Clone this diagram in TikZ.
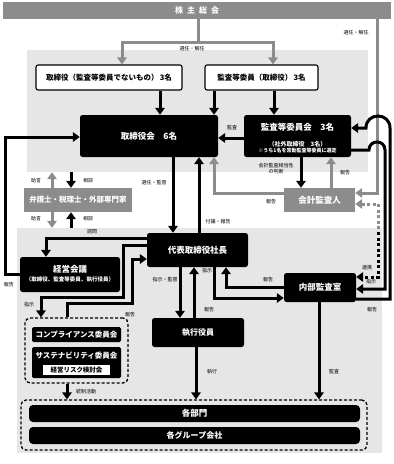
\documentclass[tikz,border=0pt]{standalone}
\usepackage{fontspec}
\setmainfont{Noto Sans CJK JP}
\usetikzlibrary{arrows.meta}
\definecolor{midgray}{HTML}{8C8C8C}
\definecolor{panelgray}{HTML}{E6E6E6}
\newcommand{\fsz}[2]{\fontsize{#1}{#2}\selectfont}
\tikzset{
  panel/.style={rectangle,fill=panelgray,inner sep=0pt},
  box/.style={rectangle,fill=black,text=white,rounded corners=2.5pt,inner sep=0pt,align=center},
  wbox/.style={rectangle,draw=black,line width=1.1pt,fill=white,rounded corners=2pt,inner sep=0pt,align=center},
  gbox/.style={rectangle,fill=midgray,text=white,inner sep=0pt,align=center},
  dashbox/.style={rectangle,draw=black,line width=1.3pt,dash pattern=on 3pt off 2pt,rounded corners=5pt,inner sep=0pt},
  txt/.style={inner sep=0pt,align=center},
  link/.style={-{Triangle[length=7pt,width=9.5pt]},line width=3pt},
  glink/.style={link,draw=midgray},
  dotlink/.style={line width=3pt,dash pattern=on 3pt off 2.5pt},
  lbl/.style={font=\fsz{5}{6},inner sep=0pt,align=center}
}

\begin{document}
\begin{tikzpicture}[x=1pt,y=-1pt]
\useasboundingbox (0,0) rectangle (394,464);
% background panels
\node[panel,minimum width=341pt,minimum height=122pt] (upper) at (197.5,111) {};
\node[panel,minimum width=365pt,minimum height=225pt] (lower) at (199.5,340.5) {};

% nodes
\node[gbox,minimum width=388pt,minimum height=17pt,font=\bfseries\fsz{8}{9}] (meeting) at (197,10.5) {株\hspace{4pt}主\hspace{4pt}総\hspace{4pt}会};
\node[wbox,minimum width=146pt,minimum height=25pt,font=\bfseries\fsz{7.5}{9}] (dir) at (109,77.5) {取締役（監査等委員でないもの）\,3名};
\node[wbox,minimum width=113pt,minimum height=25pt,font=\bfseries\fsz{7.5}{9}] (acm) at (261.5,77.5) {監査等委員（取締役）\,3名};
\node[box,minimum width=138pt,minimum height=42pt,font=\bfseries\fsz{8.5}{10}] (board) at (149,136) {取締役会　6名};
\node[box,minimum width=107pt,minimum height=42pt] (ac) at (297.5,136) {};
\node[txt,text=white,font=\bfseries\fsz{8.5}{10}] (actitle) at (297.5,127) {監査等委員会　3名};
\node[txt,text=white,font=\bfseries\fsz{6}{7}] (acsub) at (297.5,144) {（社外取締役　3名）};
\node[txt,text=white,font=\bfseries\fsz{5}{6}] (acnote) at (297.5,151) {※うち1名を常勤監査等委員に選定};
\node[gbox,minimum width=108pt,minimum height=24pt,font=\bfseries\fsz{7.5}{9}] (expert) at (78,200) {弁護士・税理士・外部専門家};
\node[gbox,minimum width=71pt,minimum height=24pt,font=\bfseries\fsz{8.5}{10}] (audit) at (319.5,200) {会計監査人};
\node[box,minimum width=100pt,minimum height=35pt] (mgmt) at (70,274.5) {};
\node[txt,text=white,font=\bfseries\fsz{8.5}{10}] (mgmttitle) at (70,269.5) {経営会議};
\node[txt,text=white,font=\bfseries\fsz{5.5}{6.5}] (mgmtsub) at (70,279.5) {（取締役、監査等委員、執行役員）};
\node[box,minimum width=101pt,minimum height=34pt,font=\bfseries\fsz{8.5}{10}] (pres) at (197.5,250) {代表取締役社長};
\node[box,minimum width=92pt,minimum height=29pt,font=\bfseries\fsz{8}{10}] (exec) at (198,332.5) {執行役員};
\node[box,minimum width=72pt,minimum height=29pt,font=\bfseries\fsz{8.5}{10}] (ia) at (320,287.5) {内部監査室};
\node[dashbox,minimum width=103pt,minimum height=65pt] (csgroup) at (76.5,350.5) {};
\node[box,minimum width=89pt,minimum height=15pt,rounded corners=1.5pt,font=\bfseries\fsz{7.5}{9}] (comp) at (76.5,334.5) {コンプライアンス委員会};
\node[box,minimum width=89pt,minimum height=31pt,rounded corners=1.5pt] (sust) at (76.5,362.5) {};
\node[txt,text=white,font=\bfseries\fsz{7.5}{9}] (susttitle) at (76.5,356) {サステナビリティ委員会};
\node[rectangle,fill=white,minimum width=67pt,minimum height=10pt,inner sep=0pt,font=\bfseries\fsz{6.5}{8}] (risk) at (76.5,370) {経営リスク検討会};
\node[dashbox,minimum width=346pt,minimum height=50pt] (orgs) at (194,425) {};
\node[box,minimum width=331pt,minimum height=17pt,rounded corners=4pt,font=\bfseries\fsz{8.5}{10}] (dept) at (194.5,413.5) {各部門};
\node[box,minimum width=331pt,minimum height=17pt,rounded corners=4pt,font=\bfseries\fsz{8}{10}] (grp) at (194.5,435.5) {各グループ会社};

% shareholders
\coordinate (split) at (198,42);
\draw[line width=3pt,midgray] (meeting.south -| split) -- (split);
\draw[glink] (split) -| (dir.north -| 122,0);
\draw[glink] (split) -| (acm.north -| 273,0);
\draw[glink] (meeting.south -| 377,0) |- (audit.east |- 0,193);
\node[lbl] at (192,49) {選任・解任};
\node[lbl] at (356,33) {選任・解任};

% board level
\draw[link] (dir.south -| 160,0) -- (board.north -| 160,0);
\draw[link] (acm.south -| 214,0) -- (board.north -| 214,0);
\draw[link] (acm.south -| 274,0) -- (ac.north -| 274,0);
\draw[link] (ac.west |- 0,138) -- (board.east |- 0,138);
\node[lbl] at (232,128) {監査};
\draw[link] (board.south -| 173,0) -- (pres.north -| 173,0);
\node[lbl] at (154,183) {選任・監督};
\draw[link] (pres.north -| 199,0) -- (board.south -| 199,0);
\node[lbl] at (218,222) {付議・報告};
\draw[glink] (audit.west |- 0,193) -| (board.south -| 214,0);
\node[lbl] at (271,202) {報告};
\draw[link] (ac.south -| 301,0) -- (audit.north -| 301,0);
\node[lbl] at (276,169) {会計監査相当性\\の判断};
\draw[glink] (audit.north -| 331,0) -- (ac.south -| 331,0);
\node[lbl] at (345,173) {報告};

% outside experts
\draw[glink] (expert.north -| 52,0) -- (upper.south -| 52,0);
\draw[link] (upper.south -| 71,0) -- (expert.north -| 71,0);
\draw[glink] (expert.south -| 52,0) -- (lower.north -| 52,0);
\draw[link] (lower.north -| 71,0) -- (expert.south -| 71,0);
\node[lbl] at (36,181) {助言};
\node[lbl] at (88,181) {相談};
\node[lbl] at (36,219) {助言};
\node[lbl] at (88,219) {相談};

% management side
\draw[link] (mgmt.west |- 0,274) -- (5,274) |- (board.west |- 0,137);
\node[lbl] at (9,285) {報告};
\draw[link] (pres.west |- 0,238) -| (mgmt.north -| 46,0);
\node[lbl] at (92,232) {諮問};
\draw[link] (pres.west |- 0,245) -| (123,297) -| (csgroup.north -| 41,0);
\node[lbl] at (29,305) {指示};
\draw[link] (csgroup.north -| 67,0) |- (132,303) |- (pres.west |- 0,259);
\node[lbl] at (130,315) {報告};
\draw[link] (pres.south -| 180,0) -- (exec.north -| 180,0);
\node[lbl] at (165,280) {指示・監督};
\draw[link] (exec.north -| 194,0) -- (pres.south -| 194,0);
\node[lbl] at (209,310) {報告};
\draw[link] (pres.south -| 214,0) |- (ia.west |- 0,298);
\node[lbl] at (207,271) {指示};
\draw[link] (ia.west |- 0,287) -| (pres.south -| 226,0);
\node[lbl] at (268,280) {報告};

% audit loops
\coordinate (dotmid) at (378,232);
\draw[dotlink,midgray,{Triangle[length=7pt,width=9.5pt]}-] (audit.east |- 0,204) -| (dotmid);
\draw[dotlink,-{Triangle[length=7pt,width=9.5pt]}] (dotmid) |- (ia.east |- 0,277);
\node[lbl] at (367,268) {連携};
\draw[link] (ac.east |- 0,150) -- (369,150) .. controls (369,139.3) and (385,139.3) .. (385,150) -- (385,289) -- (ia.east |- 0,289);
\node[lbl] at (371,282) {指示};
\draw[link] (ia.east |- 0,299) -- (390,299) -- (390,128) .. controls (390,112) and (366,112) .. (366,128) -- (ac.east |- 0,128);
\node[lbl] at (372,310) {報告};

% to departments
\draw[link] (exec.south -| 196,0) -- (orgs.north -| 196,0);
\node[lbl] at (212,372) {執行};
\draw[link] (ia.south -| 319,0) -- (orgs.north -| 319,0);
\node[lbl] at (334,372) {監査};
\draw[link] (csgroup.south -| 67,0) -- (orgs.north -| 67,0);
\node[lbl] at (86,392) {統制活動};
\end{tikzpicture}
\end{document}
